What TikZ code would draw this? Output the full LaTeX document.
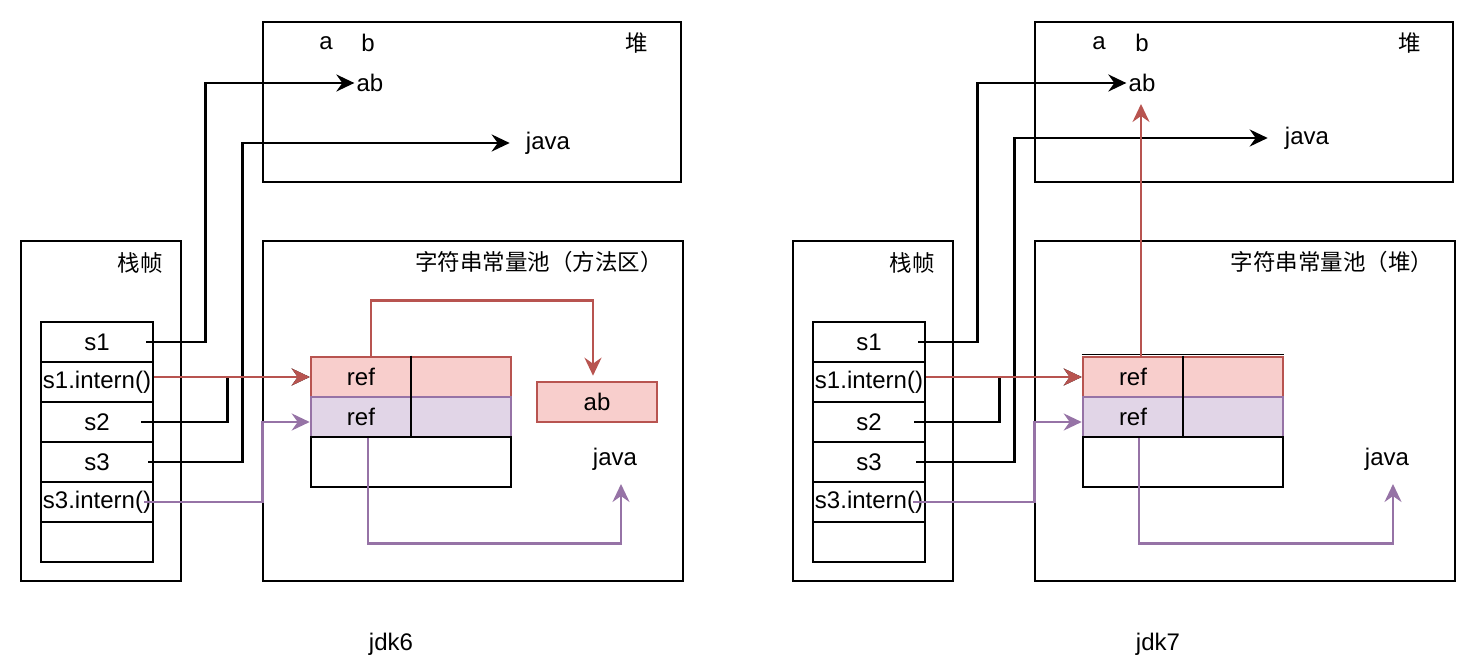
\documentclass[tikz,border=0pt]{standalone}
\usepackage{fontspec}
\setmainfont{Liberation Sans}
\newfontfamily\cjk{Noto Sans CJK SC}
\usetikzlibrary{arrows.meta}
\definecolor{redline}{HTML}{B85450}
\definecolor{redfill}{HTML}{F8CECC}
\definecolor{purpline}{HTML}{9673A6}
\definecolor{purpfill}{HTML}{E1D5E7}

\begin{document}
\begin{tikzpicture}[x = 1pt, y = -1pt, line width = 2.6pt,
                      font = \fontsize{24}{28}\selectfont,
                      frame/.style = {draw, inner sep = 0pt},
                      cell/.style = {draw, inner sep = 0pt, minimum width = 112pt, minimum height = 40pt},
                      redrow/.style = {draw = redline, fill = redfill, inner sep = 0pt, minimum width = 200pt, minimum height = 40pt},
                      purprow/.style = {draw = purpline, fill = purpfill, inner sep = 0pt, minimum width = 200pt, minimum height = 40pt},
                      txt/.style = {inner sep = 1pt},
                      zh/.style = {inner sep = 1pt, font = \cjk\fontsize{22.5}{26}\selectfont},
                      arr/.style = {-{Stealth[length = 18pt, width = 17pt, inset = 6pt]}},
                      redarr/.style = {arr, draw = redline},
                      purparr/.style = {arr, draw = purpline}]
    \useasboundingbox (0, 0) rectangle (1476, 671);

    % jdk6
    \node [frame, minimum width = 418pt, minimum height = 160pt] (heap6) at (472, 102){};
    \node [txt] (a6) at (326, 43){a};
    \node [txt] (b6) at (368, 43){b};
    \node [zh] (h6) at (637, 43){堆};
    \node [txt] (ab6) at (370, 83){ab};
    \node [txt] (jv6) at (548, 143){java};

    \node [frame, minimum width = 160pt, minimum height = 340pt] (stack6) at (101, 411){};
    \node [zh] (st6) at (140, 263){栈帧};
    \node [cell] (s1a) at (97, 342){s1};
    \node [cell] (i1a) at (97, 382){s1.intern()};
    \node [cell] (s2a) at (97, 422){s2};
    \node [cell] (s3a) at (97, 462){s3};
    \node [cell] (i3a) at (97, 502){s3.intern()};
    \node [cell] (e6) at (97, 542){};

    \node [frame, minimum width = 420pt, minimum height = 340pt] (pool6) at (473, 411){};
    \node [zh] (pt6) at (539, 262){字符串常量池（方法区）};
    \node [redrow] (r1a) at (411, 377){};
    \node [purprow] (r2a) at (411, 417){};
    \node [frame, minimum width = 200pt, minimum height = 50pt] (r3a) at (411, 462){};
    \draw (r1a.north) -- (r2a.south);
    \node [txt] at (361, 377){ref};
    \node [txt] at (361, 417){ref};
    \node [redrow, minimum width = 120pt] (abp6) at (597, 402){ab};
    \node [txt] (jp6) at (615, 459){java};
    \coordinate (jt6) at (621, 484);

    \draw [arr] ([xshift = -8]s1a.east) -- ++(59, 0) |- (ab6.west);
    \draw [arr] ([xshift = -13]s2a.east) -- ++(86, 0) |- (r1a.west);
    \draw [arr] ([xshift = -6]s3a.east) -- ++(94, 0) |- ([xshift = -14]jv6.west);
    \draw [redarr] (i1a.east |- r1a.west) -- (r1a.west);
    \draw [purparr] ([xshift = -10]i3a.east) -- ++(118, 0) |- ([yshift = -5]r2a.west);
    \draw [redarr] ([xshift = -40]r1a.north) -- ++(0, -55) -| ([xshift = -4, yshift = 5]abp6.north);
    \draw [purparr] ([xshift = -43]r2a.south) -- ++(0, 105) -| (jt6);

    \node [txt] (l6) at (391, 644){jdk6};

    % jdk7
    \node [frame, minimum width = 418pt, minimum height = 160pt] (heap7) at (1244, 102){};
    \node [txt] (a7) at (1099, 43){a};
    \node [txt] (b7) at (1142, 43){b};
    \node [zh] (h7) at (1410, 43){堆};
    \node [txt] (ab7) at (1142, 83){ab};
    \node [txt] (jv7) at (1307, 138){java};

    \node [frame, minimum width = 160pt, minimum height = 340pt] (stack7) at (873, 411){};
    \node [zh] (st7) at (912, 263){栈帧};
    \node [cell] (s1b) at (869, 342){s1};
    \node [cell] (i1b) at (869, 382){s1.intern()};
    \node [cell] (s2b) at (869, 422){s2};
    \node [cell] (s3b) at (869, 462){s3};
    \node [cell] (i3b) at (869, 502){s3.intern()};
    \node [cell] (e7) at (869, 542){};

    \node [frame, minimum width = 420pt, minimum height = 340pt] (pool7) at (1245, 411){};
    \node [zh] (pt7) at (1332, 262){字符串常量池（堆）};
    \node [redrow] (r1b) at (1183, 377){};
    \node [purprow] (r2b) at (1183, 417){};
    \node [frame, minimum width = 200pt, minimum height = 50pt] (r3b) at (1183, 462){};
    \draw [line width = 1.2pt] ([yshift = 1.5]r1b.north west) -- ([yshift = 1.5]r1b.north east);
    \draw (r1b.north) -- (r2b.south);
    \node [txt] at (1133, 377){ref};
    \node [txt] at (1133, 417){ref};
    \node [txt] (jp7) at (1387, 459){java};
    \coordinate (jt7) at (1393, 484);
    \coordinate (abt7) at (1141, 104);

    \draw [arr] ([xshift = -8]s1b.east) -- ++(59, 0) |- (ab7.west);
    \draw [arr] ([xshift = -12]s2b.east) -- ++(85, 0) |- (r1b.west);
    \draw [arr] ([xshift = -10]s3b.east) -- ++(98, 0) |- ([xshift = -15]jv7.west);
    \draw [redarr] (i1b.east |- r1b.west) -- (r1b.west);
    \draw [purparr] ([xshift = -13]i3b.east) -- ++(121, 0) |- ([yshift = -5]r2b.west);
    \draw [redarr] ([xshift = -42]r1b.north) -- (abt7);
    \draw [purparr] ([xshift = -44]r2b.south) -- ++(0, 105) -| (jt7);

    \node [txt] (l7) at (1158, 644){jdk7};
\end{tikzpicture}
\end{document}
